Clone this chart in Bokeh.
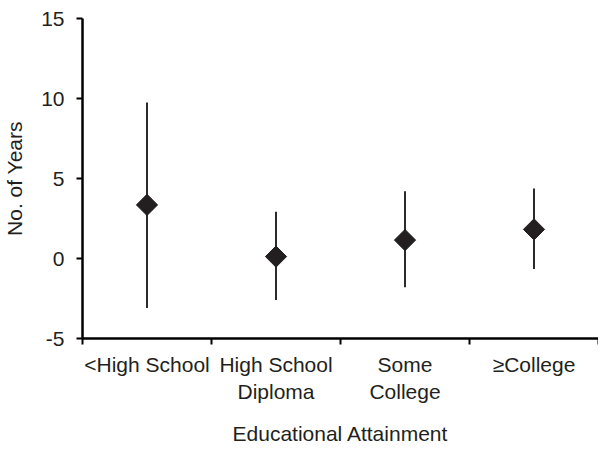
import numpy as np
from bokeh.plotting import figure
from bokeh.models import FixedTicker, Range1d
from bokeh.embed import file_html
from bokeh.resources import INLINE

categories = ["<High School", "High School\nDiploma", "Some\nCollege", "\u2265College"]
estimates = [3.35, 0.12, 1.15, 1.82]
lower = [-3.1, -2.6, -1.8, -0.65]
upper = [9.75, 2.92, 4.2, 4.38]
y_ticks = [-5, 0, 5, 10, 15]
y_tick_labels = ["-5", "0", "5", "10", "15"]

xs = [i + 0.5 for i in range(len(categories))]

p = figure(width=598, height=448, output_backend="svg", toolbar_location=None,
           x_range=Range1d(0, len(categories)), y_range=Range1d(-5, 15),
           min_border_left=72, min_border_right=0, min_border_top=18, min_border_bottom=100)
p.outline_line_color = None
p.grid.grid_line_color = None
p.background_fill_color = "white"
p.border_fill_color = "white"

dark = "#231f20"
font = "Liberation Sans"
fs = "21px"

p.segment(x0=xs, y0=lower, x1=xs, y1=upper, line_color="#2b2b2b", line_width=2)
p.scatter(x=xs, y=estimates, marker="square", angle=np.pi / 4, size=15,
          fill_color=dark, line_color=dark)

xa = p.xaxis[0]
xa.ticker = FixedTicker(ticks=xs, minor_ticks=list(range(len(categories) + 1)))
xa.major_label_overrides = {x: c for x, c in zip(xs, categories)}
xa.major_tick_line_color = None
xa.major_tick_out = 0
xa.minor_tick_out = 6
xa.minor_tick_in = 0
xa.minor_tick_line_color = "black"
xa.minor_tick_line_width = 2
xa.axis_line_width = 2.5
xa.axis_line_color = "black"
xa.major_label_text_font = font
xa.major_label_text_font_size = fs
xa.major_label_text_color = dark
xa.major_label_standoff = 8
xa.axis_label = "Educational Attainment"
xa.axis_label_text_font = font
xa.axis_label_text_font_size = fs
xa.axis_label_text_font_style = "normal"
xa.axis_label_text_color = dark
xa.axis_label_standoff = 16

ya = p.yaxis[0]
ya.ticker = FixedTicker(ticks=y_ticks, minor_ticks=[])
ya.major_label_overrides = {t: l for t, l in zip(y_ticks, y_tick_labels)}
ya.major_tick_out = 6
ya.major_tick_in = 0
ya.major_tick_line_width = 2
ya.major_tick_line_color = "black"
ya.axis_line_width = 2.5
ya.axis_line_color = "black"
ya.major_label_text_font = font
ya.major_label_text_font_size = fs
ya.major_label_text_color = dark
ya.major_label_standoff = 12
ya.axis_label = "No. of Years"
ya.axis_label_text_font = font
ya.axis_label_text_font_size = fs
ya.axis_label_text_font_style = "normal"
ya.axis_label_text_color = dark
ya.axis_label_standoff = 12

open("out.html", "w").write(file_html(p, INLINE))
